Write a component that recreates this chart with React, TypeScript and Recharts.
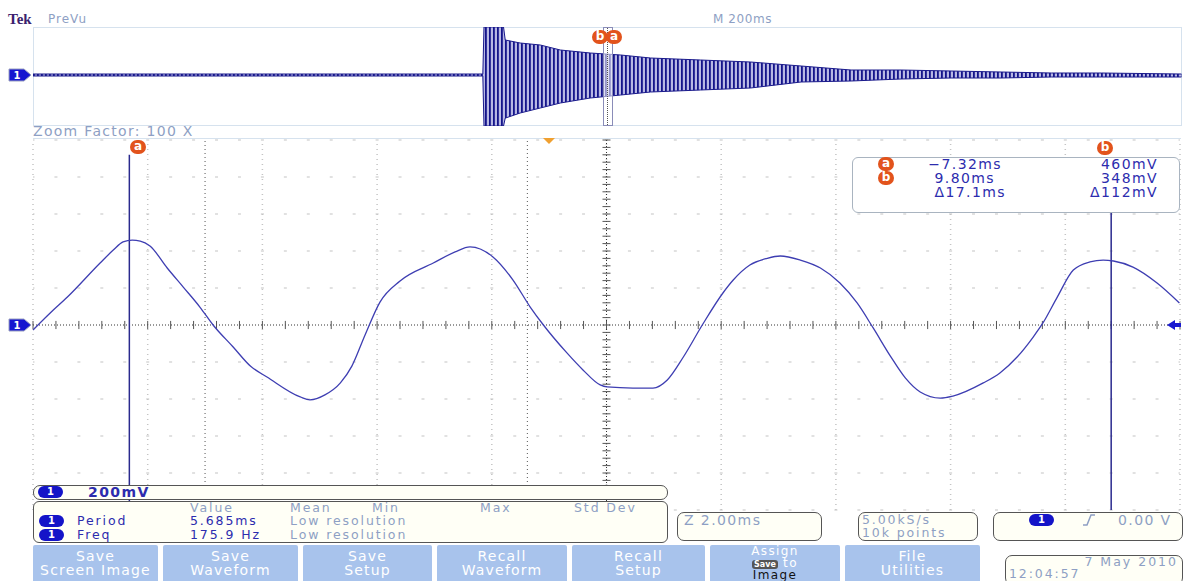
import React from 'react';
import { LineChart, Line, XAxis, YAxis, ReferenceLine, ComposedChart, Area } from 'recharts';

// zoomed waveform, time in ms (2.00ms/div), level in mV (200mV/div)
const waveTime = [
  -9.0, -8.7, -8.4, -7.83, -7.6, -7.43, -7.27, -7.13, -6.96, -6.66, -6.38, -6.09, -5.86, -5.51, -5.21, -4.92,
  -4.34, -4.17, -3.91, -3.64, -3.44, -3.21, -2.95, -2.6, -2.02, -1.64, -1.38, -0.98, -0.63, -0.33,
  -0.1, 0.31, 0.59, 0.89, 1.01, 1.46, 1.81, 2.06, 2.34, 2.67, 3.03, 3.21, 3.5, 3.8, 4.03, 4.38,
  4.73, 5.07, 5.37, 5.65, 5.95, 6.21, 6.47, 6.82, 7.04, 7.57, 7.86, 8.16, 8.44, 8.61, 8.86,
  9.14, 9.43, 9.66, 9.84, 10.18, 10.6, 10.99,
];
const waveMv = [
  -27, 65, 151, 335, 405, 449, 459, 454, 427, 308, 205, 97, 0, -119, -222, -281,
  -389, -405, -378, -313, -222, -54, 124, 238, 335, 395, 422, 368, 243, 97,
  0, -151, -243, -324, -335, -341, -341, -297, -173, 0, 173, 243, 324, 360, 373, 351,
  308, 227, 119, -16, -168, -286, -362, -395, -384, -313, -259, -173, -65, 11, 151,
  297, 341, 351, 346, 313, 227, 119,
];

// PreVu strip (M 200ms/div): envelope of the ringing burst, time in ms, level in mV
const previewTime = [-1000, -600, -217, -215, -204, -190, -181, -178, -152, -117, -82, -30, 23, 75, 162, 249, 337, 424, 511, 598, 685, 773, 860, 999];
const previewHi = [16, 16, 16, 768, 768, 768, 768, 560, 512, 480, 400, 352, 320, 272, 240, 208, 144, 80, 80, 64, 48, 32, 32, 16];
const previewLo = [-16, -16, -16, -816, -816, -816, -816, -690, -608, -528, -448, -368, -320, -272, -240, -208, -112, -96, -64, -48, -48, -32, -32, -32];

const gridTime = [-9, -7, -5, -3, -1, 1, 3, 5, 7, 9, 11];
const gridMv = [-1000, -800, -600, -400, -200, 200, 400, 600, 800, 1000];

const waveData = waveTime.map((t, i) => ({ t, v: waveMv[i] }));
const previewData = previewTime.map((t, i) => ({ t, range: [previewLo[i], previewHi[i]] }));

const minorTimes: number[] = [];
for (let i = 0; i <= 50; i++) minorTimes.push(-9 + i * 0.4);
const minorMv: number[] = [];
for (let i = 0; i <= 50; i++) minorMv.push(-1000 + i * 40);

const BLUE = '#2c2cae';
const GREY = '#8e9fc4';
const ORANGE = '#e2531c';

const Txt = ({ x, y, children, color = BLUE, size = 14, bold = false, style = {} }: any) => (
  <div
    style={{
      position: 'absolute', left: x, top: y - 7, lineHeight: '14px', fontSize: size, color,
      fontWeight: bold ? 'bold' : 'normal', letterSpacing: 1.4, whiteSpace: 'nowrap', ...style,
    }}
  >
    {children}
  </div>
);

// tighter text for the stacked measurement rows
const Row = ({ x, y, children, color = BLUE }: any) => (
  <div
    style={{
      position: 'absolute', left: x, top: y - 6, lineHeight: '12px', fontSize: 12.5, color,
      letterSpacing: 1.9, whiteSpace: 'nowrap',
    }}
  >
    {children}
  </div>
);

const Badge = ({ x, y }: any) => (
  <div
    style={{
      position: 'absolute', left: x, top: y - 6, width: 25, height: 12, borderRadius: 6, background: '#1414c8',
      color: '#fff', fontSize: 10, fontWeight: 'bold', lineHeight: '12px', textAlign: 'center',
    }}
  >
    1
  </div>
);

const Marker = ({ x, y, letter }: any) => (
  <div
    style={{
      position: 'absolute', left: x - 8, top: y - 7, width: 16, height: 14, borderRadius: 8, background: ORANGE,
      color: '#fff', fontSize: 12, fontWeight: 'bold', lineHeight: '13px', textAlign: 'center',
    }}
  >
    {letter}
  </div>
);

const ChanFlag = ({ y }: any) => (
  <svg style={{ position: 'absolute', left: 8, top: y - 7 }} width={24} height={14}>
    <polygon points="1,1 16,1 23,7 16,13 1,13" fill="#1616d0" stroke="#9aa0c0" strokeWidth={1} />
    <text x={9} y={11} fill="#fff" fontSize={10} fontWeight="bold" textAnchor="middle" fontFamily="DejaVu Sans">1</text>
  </svg>
);

const Box = ({ x, y, w, h, r = 7 }: any) => (
  <div
    style={{
      position: 'absolute', left: x, top: y, width: w, height: h, border: '1px solid #555', borderRadius: r,
      background: '#fffff6', boxSizing: 'border-box',
    }}
  />
);

const Button = ({ x, w, lines }: any) => (
  <div
    style={{
      position: 'absolute', left: x, top: 545, width: w, height: 40, background: '#a8c3ec', borderRadius: 2,
      color: '#fff', fontSize: 14, letterSpacing: 1.2, lineHeight: '14px', textAlign: 'center', paddingTop: 4,
      boxSizing: 'border-box', whiteSpace: 'nowrap',
    }}
  >
    {lines.map((l: string) => (
      <div key={l}>{l}</div>
    ))}
  </div>
);

const App = () => {
  return (
    <div
      style={{
        position: 'absolute', left: 0, top: 0, width: 1186, height: 581, background: '#fff', overflow: 'hidden',
        fontFamily: '"DejaVu Sans", Verdana, sans-serif',
      }}
    >
      {/* header */}
      <div style={{ position: 'absolute', left: 8, top: 11, fontFamily: '"Liberation Serif", serif', fontWeight: 'bold', fontSize: 15, color: '#3c1f6e', lineHeight: '16px' }}>
        Tek
      </div>
      <Txt x={48} y={19} color={GREY} size={12} style={{ letterSpacing: 1 }}>PreVu</Txt>
      <Txt x={713} y={19} color={GREY} size={12} style={{ letterSpacing: 0.6 }}>M 200ms</Txt>
      <Txt x={33} y={131} color={GREY} size={14} style={{ letterSpacing: 1.3 }}>Zoom Factor: 100 X</Txt>

      {/* PreVu strip */}
      <div style={{ position: 'absolute', left: 33, top: 27, width: 1149, height: 99, border: '1px solid #d6e2ee', boxSizing: 'border-box' }} />
      <div style={{ position: 'absolute', left: 33, top: 27 }}>
        <ComposedChart width={1149} height={99} data={previewData} margin={{ top: 0, right: 0, bottom: 0, left: 0 }}>
          <defs>
            <pattern id="osc" width={4} height={10} patternUnits="userSpaceOnUse">
              <rect width={4} height={10} fill="#b8b8e4" />
              <rect width={1.8} height={10} fill="#14148a" />
            </pattern>
          </defs>
          <XAxis type="number" dataKey="t" domain={[-1000, 1000]} hide />
          <YAxis type="number" domain={[-816, 768]} hide />
          <Area
            dataKey="range"
            type="linear"
            stroke="#1a1a8c"
            strokeWidth={1}
            fill="url(#osc)"
            fillOpacity={1}
            isAnimationActive={false}
          />
        </ComposedChart>
      </div>
      <div style={{ position: 'absolute', left: 603, top: 27, width: 10, height: 99, border: '1px solid #8a8cb8', boxSizing: 'border-box', background: 'rgba(255,255,255,0.55)' }}>
        <div style={{ position: 'absolute', left: 3, top: 0, height: 97, borderLeft: '1px dotted #555' }} />
      </div>
      <Marker x={600} y={37} letter="b" />
      <Marker x={614} y={37} letter="a" />
      <ChanFlag y={75} />

      {/* main zoomed graticule */}
      <div style={{ position: 'absolute', left: 33, top: 138, width: 1148, height: 1, background: '#d6e2ee' }} />
      <div style={{ position: 'absolute', left: 0, top: 0 }}>
        <LineChart width={1186} height={581} data={waveData} margin={{ top: 140, right: 6, bottom: 71, left: 33 }}>
          <XAxis type="number" dataKey="t" domain={[-9, 11]} hide allowDataOverflow />
          <YAxis type="number" domain={[-1000, 1000]} hide allowDataOverflow />
          {gridTime.map((t) => (
            <ReferenceLine key={'gx' + t} x={t} stroke="#c4c4c4" strokeWidth={1.5} strokeDasharray="1 4" />
          ))}
          {gridMv.map((v) => (
            <ReferenceLine key={'gy' + v} y={v} stroke="#c4c4c4" strokeWidth={1.2} strokeDasharray="3 19.94" strokeDashoffset={1.5} />
          ))}
          <ReferenceLine x={-6} stroke="#555" strokeDasharray="1 3" />
          <ReferenceLine x={-0.38} stroke="#555" strokeDasharray="1 3" />
          <ReferenceLine y={0} stroke="#333" strokeDasharray="1 2" />
          <ReferenceLine x={1} stroke="#333" strokeDasharray="1 2" />
          {minorTimes.map((t) => (
            <ReferenceLine key={'mx' + t} segment={[{ x: t, y: -22 }, { x: t, y: 22 }]} stroke="#555" />
          ))}
          {minorMv.map((v) => (
            <ReferenceLine key={'my' + v} segment={[{ x: 0.93, y: v }, { x: 1.07, y: v }]} stroke="#555" />
          ))}
          <ReferenceLine segment={[{ x: -7.32, y: 920 }, { x: -7.32, y: -1000 }]} stroke="#2a2a8e" strokeWidth={1.5} />
          <ReferenceLine segment={[{ x: 9.8, y: 605 }, { x: 9.8, y: -1000 }]} stroke="#2a2a8e" strokeWidth={1.5} />
          <Line
            dataKey="v"
            type="monotone"
            stroke="#3e3eb2"
            strokeWidth={1.3}
            dot={false}
            isAnimationActive={false}
          />
        </LineChart>
      </div>
      <ChanFlag y={325} />
      <svg style={{ position: 'absolute', left: 1166, top: 319 }} width={16} height={12}>
        <polygon points="1,6 9,1 9,4 15,4 15,8 9,8 9,11" fill="#1a1ad0" />
      </svg>
      <svg style={{ position: 'absolute', left: 543, top: 138 }} width={13} height={8}>
        <polygon points="0,0 12,0 6,6" fill="#f0a030" />
      </svg>
      <Marker x={138} y={147} letter="a" />
      <Marker x={1105} y={148} letter="b" />

      {/* cursor readout */}
      <div style={{ position: 'absolute', left: 852, top: 157, width: 328, height: 56, border: '1px solid #a9b4c0', borderRadius: 6, background: '#fff', boxSizing: 'border-box' }} />
      <Marker x={886} y={164} letter="a" />
      <Marker x={886} y={178} letter="b" />
      <Txt x={880} y={164} style={{ width: 122, textAlign: 'right' }}>−7.32ms</Txt>
      <Txt x={880} y={178} style={{ width: 115, textAlign: 'right' }}>9.80ms</Txt>
      <Txt x={880} y={192} style={{ width: 126, textAlign: 'right' }}>Δ17.1ms</Txt>
      <Txt x={1040} y={164} style={{ width: 118, textAlign: 'right' }}>460mV</Txt>
      <Txt x={1040} y={178} style={{ width: 118, textAlign: 'right' }}>348mV</Txt>
      <Txt x={1040} y={192} style={{ width: 118, textAlign: 'right' }}>Δ112mV</Txt>

      {/* channel scale + measurements */}
      <Box x={33} y={485} w={635} h={15} />
      <Badge x={38} y={492} />
      <Txt x={88} y={492} bold>200mV</Txt>
      <Box x={33} y={501} w={635} h={42} r={6} />
      <Row x={190} y={508} color={GREY}>Value</Row>
      <Row x={290} y={508} color={GREY}>Mean</Row>
      <Row x={372} y={508} color={GREY}>Min</Row>
      <Row x={480} y={508} color={GREY}>Max</Row>
      <Row x={574} y={508} color={GREY}>Std Dev</Row>
      <Badge x={39} y={521} />
      <Row x={77} y={521}>Period</Row>
      <Row x={190} y={521}>5.685ms</Row>
      <Row x={290} y={521} color={GREY}>Low resolution</Row>
      <Badge x={39} y={535} />
      <Row x={77} y={535}>Freq</Row>
      <Row x={190} y={535}>175.9 Hz</Row>
      <Row x={290} y={535} color={GREY}>Low resolution</Row>

      <Box x={677} y={512} w={145} h={29} />
      <Txt x={684} y={520} color={GREY}>Z 2.00ms</Txt>
      <Box x={858} y={512} w={120} h={29} />
      <Row x={862} y={520} color={GREY}>5.00kS/s</Row>
      <Row x={862} y={533} color={GREY}>10k points</Row>
      <Box x={993} y={512} w={190} h={29} />
      <Badge x={1029} y={520} />
      <svg style={{ position: 'absolute', left: 1082, top: 513 }} width={14} height={14}>
        <path d="M1,12 L5,12 L9,2 L13,2" stroke={GREY} strokeWidth={1.5} fill="none" />
      </svg>
      <Txt x={1118} y={520} color={GREY}>0.00 V</Txt>

      {/* soft keys */}
      <Button x={33} w={125} lines={['Save', 'Screen Image']} />
      <Button x={163} w={135} lines={['Save', 'Waveform']} />
      <Button x={303} w={129} lines={['Save', 'Setup']} />
      <Button x={437} w={130} lines={['Recall', 'Waveform']} />
      <Button x={572} w={133} lines={['Recall', 'Setup']} />
      <div
        style={{
          position: 'absolute', left: 710, top: 545, width: 130, height: 40, background: '#a8c3ec', borderRadius: 2,
          color: '#fff', fontSize: 12, letterSpacing: 1.4, lineHeight: '12px', textAlign: 'center',
        }}
      >
        <div>Assign</div>
        <div>
          <span style={{ background: '#555', color: '#fff', fontSize: 8, borderRadius: 3, padding: '0 2px', letterSpacing: 0, fontWeight: 'bold', lineHeight: '9px', display: 'inline-block' }}>Save</span>
          <span> to</span>
        </div>
        <div style={{ color: '#111' }}>Image</div>
      </div>
      <Button x={845} w={135} lines={['File', 'Utilities']} />
      <Box x={1005} y={555} w={178} h={30} />
      <Row x={1012} y={562} color={GREY}>
        <div style={{ width: 166, textAlign: 'right', letterSpacing: 2 }}>7 May 2010</div>
      </Row>
      <Row x={1009} y={574} color={GREY}>12:04:57</Row>
    </div>
  );
};

export default App;
